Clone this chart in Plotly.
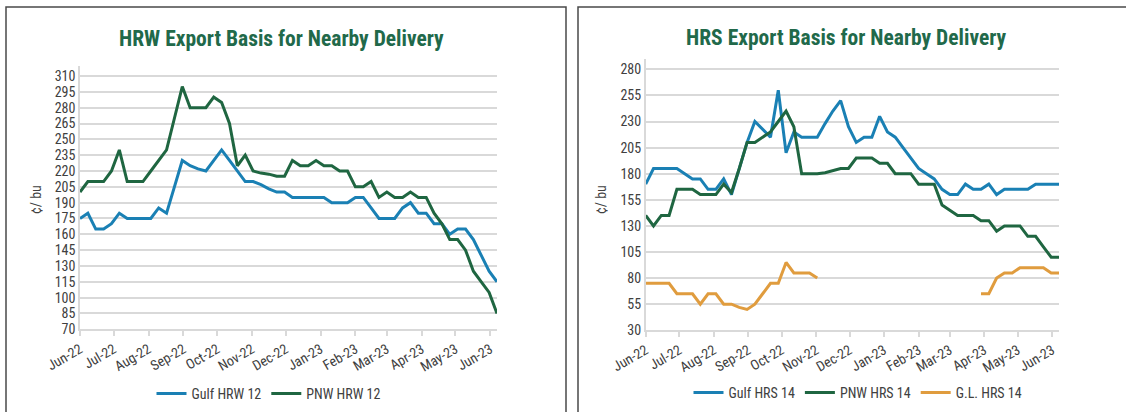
import pandas as pd
import plotly.graph_objects as go

# ---------------- data ----------------
week_start = "2022-06-01"
n_weeks = 54
dates = pd.date_range(week_start, periods=n_weeks, freq="7D")

month_ticks = ["2022-06-01", "2022-07-01", "2022-08-01", "2022-09-01", "2022-10-01",
               "2022-11-01", "2022-12-01", "2023-01-01", "2023-02-01", "2023-03-01",
               "2023-04-01", "2023-05-01", "2023-06-01"]
month_labels = ["Jun-22", "Jul-22", "Aug-22", "Sep-22", "Oct-22", "Nov-22", "Dec-22",
                "Jan-23", "Feb-23", "Mar-23", "Apr-23", "May-23", "Jun-23"]

gulf_hrw = [175, 180, 165, 165, 170, 180, 175, 175, 175, 175,
            185, 180, 205, 230, 225, 222, 220, 230, 240, 230,
            220, 210, 210, 207, 203, 200, 200, 195, 195, 195,
            195, 195, 190, 190, 190, 195, 195, 185, 175, 175,
            175, 185, 190, 180, 180, 170, 170, 160, 165, 165,
            155, 140, 125, 115]
pnw_hrw = [200, 210, 210, 210, 220, 240, 210, 210, 210, 220,
           230, 240, 270, 300, 280, 280, 280, 290, 285, 265,
           225, 235, 220, 218, 217, 215, 215, 230, 225, 225,
           230, 225, 225, 220, 220, 205, 205, 210, 195, 200,
           195, 195, 200, 195, 195, 180, 170, 155, 155, 145,
           125, 115, 105, 85]

gulf_hrs = [170, 185, 185, 185, 185, 180, 175, 175, 165, 165,
            175, 160, 185, 210, 230, 222, 215, 260, 200, 220,
            215, 215, 215, 228, 240, 250, 225, 210, 215, 215,
            235, 220, 215, 205, 195, 185, 180, 175, 165, 160,
            160, 170, 165, 165, 170, 160, 165, 165, 165, 165,
            170, 170, 170, 170]
pnw_hrs = [140, 130, 140, 140, 165, 165, 165, 160, 160, 160,
           170, 162, 185, 210, 210, 215, 220, 230, 240, 225,
           180, 180, 180, 181, 183, 185, 185, 195, 195, 195,
           190, 190, 180, 180, 180, 170, 170, 170, 150, 145,
           140, 140, 140, 135, 135, 125, 130, 130, 130, 120,
           120, 110, 100, 100]
gl_hrs = [75, 75, 75, 75, 65, 65, 65, 55, 65, 65,
          55, 55, 52, 50, 55, 65, 75, 75, 95, 85,
          85, 85, 80] + [None] * 20 + [65, 65, 80, 85, 85, 90, 90, 90, 90, 85, 85]

hrw_title = "HRW Export Basis for Nearby Delivery"
hrs_title = "HRS Export Basis for Nearby Delivery"
y_label = "¢/ bu"

# ---------------- style ----------------
W, H = 1126, 412
FONT = "Roboto Condensed, Liberation Sans Narrow, Arial Narrow, Roboto, sans-serif"
BLUE = "#1a80b4"
GREEN = "#1f6641"
ORANGE = "#e09c3e"
TITLE_GREEN = "#21694a"
GRID = "#d9d9d9"
TXT = "#404040"
TICK_SIZE = 14


def fx(p):
    return p / W


def fy(p):
    return 1 - p / H


fig = go.Figure()

fig.add_trace(go.Scatter(x=dates, y=gulf_hrw, name="Gulf HRW 12", mode="lines",
                         line=dict(color=BLUE, width=3), xaxis="x", yaxis="y", legend="legend"))
fig.add_trace(go.Scatter(x=dates, y=pnw_hrw, name="PNW HRW 12", mode="lines",
                         line=dict(color=GREEN, width=3), xaxis="x", yaxis="y", legend="legend"))

fig.add_trace(go.Scatter(x=dates, y=gulf_hrs, name="Gulf HRS 14", mode="lines",
                         line=dict(color=BLUE, width=3), xaxis="x2", yaxis="y2", legend="legend2"))
fig.add_trace(go.Scatter(x=dates, y=pnw_hrs, name="PNW HRS 14", mode="lines",
                         line=dict(color=GREEN, width=3), xaxis="x2", yaxis="y2", legend="legend2"))
fig.add_trace(go.Scatter(x=dates, y=gl_hrs, name="G.L. HRS 14", mode="lines",
                         line=dict(color=ORANGE, width=3), xaxis="x2", yaxis="y2", legend="legend2",
                         connectgaps=False))

x_range = ["2022-06-01", "2023-06-07"]

xcommon = dict(type="date", range=x_range, tickvals=month_ticks, ticktext=month_labels,
               tickangle=-30, showgrid=False, showline=True, linecolor=GRID, linewidth=1.5,
               ticks="outside", ticklen=5, tickcolor=GRID, tickwidth=1.5, automargin=False,
               tickfont=dict(family=FONT, size=TICK_SIZE, color=TXT), zeroline=False,
               fixedrange=True)
ycommon = dict(showgrid=True, gridcolor=GRID, gridwidth=1.5, showline=True, linecolor=GRID,
               linewidth=1.5, ticks="", zeroline=False, automargin=False,
               tickfont=dict(family=FONT, size=TICK_SIZE, color=TXT), fixedrange=True)

fig.update_layout(
    template="none",
    width=W, height=H,
    margin=dict(l=0, r=0, t=0, b=0, pad=0),
    paper_bgcolor="white", plot_bgcolor="white",
    font=dict(family=FONT, color=TXT),
    xaxis=dict(domain=[fx(80), fx(497)], anchor="y", **xcommon),
    yaxis=dict(domain=[fy(329.3), fy(66)], anchor="x", range=[70, 319.5],
               tick0=70, dtick=15, **ycommon),
    xaxis2=dict(domain=[fx(645.7), fx(1059)], anchor="y2", **xcommon),
    yaxis2=dict(domain=[fy(330.3), fy(59.3)], anchor="x2", range=[30, 289.6],
                tick0=30, dtick=25, **ycommon),
    legend=dict(orientation="h", x=fx(269), y=fy(394), xanchor="center", yanchor="middle",
                font=dict(family=FONT, size=TICK_SIZE, color=TXT), bgcolor="rgba(0,0,0,0)",
                itemwidth=30),
    legend2=dict(orientation="h", x=fx(858), y=fy(393), xanchor="center", yanchor="middle",
                 font=dict(family=FONT, size=TICK_SIZE, color=TXT), bgcolor="rgba(0,0,0,0)",
                 itemwidth=30),
    showlegend=True,
)

fig.add_annotation(text=hrw_title, x=fx(281), y=fy(39), xref="paper", yref="paper",
                   showarrow=False, xanchor="center", yanchor="middle",
                   font=dict(family=FONT, size=21.5, color=TITLE_GREEN, weight="bold"))
fig.add_annotation(text=hrs_title, x=fx(846), y=fy(38), xref="paper", yref="paper",
                   showarrow=False, xanchor="center", yanchor="middle",
                   font=dict(family=FONT, size=21.5, color=TITLE_GREEN, weight="bold"))
fig.add_annotation(text=y_label, x=fx(36), y=fy(200), xref="paper", yref="paper",
                   showarrow=False, textangle=-90, xanchor="center", yanchor="middle",
                   font=dict(family=FONT, size=TICK_SIZE, color=TXT))
fig.add_annotation(text=y_label, x=fx(601), y=fy(200), xref="paper", yref="paper",
                   showarrow=False, textangle=-90, xanchor="center", yanchor="middle",
                   font=dict(family=FONT, size=TICK_SIZE, color=TXT))

# panel frames
fig.add_shape(type="rect", xref="paper", yref="paper", x0=fx(6), x1=fx(566), y0=fy(420), y1=fy(7),
              line=dict(color="#4a4a4a", width=1.5), fillcolor="rgba(0,0,0,0)", layer="below")
fig.add_shape(type="rect", xref="paper", yref="paper", x0=fx(578), x1=fx(1135), y0=fy(420), y1=fy(7),
              line=dict(color="#4a4a4a", width=1.5), fillcolor="rgba(0,0,0,0)", layer="below")

fig.write_html("out.html", config={"displayModeBar": False},
               post_script="document.body.style.margin='0';document.body.style.padding='0';")
